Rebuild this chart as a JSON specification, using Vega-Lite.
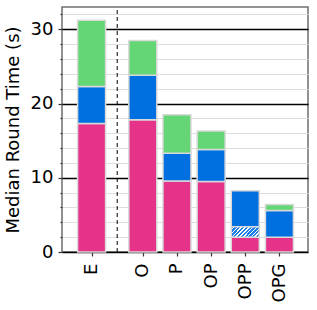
{
  "$schema": "https://vega.github.io/schema/vega-lite/v6.json",
  "width": 246,
  "height": 245,
  "autosize": "none",
  "padding": {"left": 62, "top": 7, "right": 9, "bottom": 58},
  "config": {
    "font": "DejaVu Sans",
    "view": {"stroke": "#6e6e6e", "strokeWidth": 1.5}
  },
  "data": {
    "values": [
      {"cat": "E", "pos": 0, "seg": "a", "lo": 0, "hi": 17.3},
      {"cat": "E", "pos": 0, "seg": "b", "lo": 17.3, "hi": 22.3},
      {"cat": "E", "pos": 0, "seg": "c", "lo": 22.3, "hi": 31.2},
      {"cat": "O", "pos": 1.5, "seg": "a", "lo": 0, "hi": 17.8},
      {"cat": "O", "pos": 1.5, "seg": "b", "lo": 17.8, "hi": 23.8},
      {"cat": "O", "pos": 1.5, "seg": "c", "lo": 23.8, "hi": 28.5},
      {"cat": "P", "pos": 2.5, "seg": "a", "lo": 0, "hi": 9.55},
      {"cat": "P", "pos": 2.5, "seg": "b", "lo": 9.55, "hi": 13.3},
      {"cat": "P", "pos": 2.5, "seg": "c", "lo": 13.3, "hi": 18.5},
      {"cat": "OP", "pos": 3.5, "seg": "a", "lo": 0, "hi": 9.5},
      {"cat": "OP", "pos": 3.5, "seg": "b", "lo": 9.5, "hi": 13.8},
      {"cat": "OP", "pos": 3.5, "seg": "c", "lo": 13.8, "hi": 16.3},
      {"cat": "OPP", "pos": 4.5, "seg": "a", "lo": 0, "hi": 2.0},
      {"cat": "OPP", "pos": 4.5, "seg": "h", "lo": 2.0, "hi": 3.4},
      {"cat": "OPP", "pos": 4.5, "seg": "b", "lo": 3.4, "hi": 8.25},
      {"cat": "OPG", "pos": 5.5, "seg": "a", "lo": 0, "hi": 2.0},
      {"cat": "OPG", "pos": 5.5, "seg": "b", "lo": 2.0, "hi": 5.6},
      {"cat": "OPG", "pos": 5.5, "seg": "c", "lo": 5.6, "hi": 6.4}
    ]
  },
  "encoding": {
    "x": {
      "field": "pos",
      "type": "quantitative",
      "scale": {"domain": [-0.72, 6.19], "nice": false, "zero": false},
      "axis": {
        "title": null,
        "values": [0, 1.5, 2.5, 3.5, 4.5, 5.5],
        "labelExpr": "datum.value == 0 ? 'E' : datum.value == 1.5 ? 'O' : datum.value == 2.5 ? 'P' : datum.value == 3.5 ? 'OP' : datum.value == 4.5 ? 'OPP' : 'OPG'",
        "labelAngle": -90,
        "labelAlign": "right",
        "labelBaseline": "middle",
        "labelFontSize": 18,
        "labelColor": "black",
        "labelPadding": 7,
        "tickSize": 4,
        "tickColor": "#333",
        "tickWidth": 1.2,
        "grid": false,
        "domain": false
      }
    },
    "y": {
      "field": "lo",
      "type": "quantitative",
      "scale": {"domain": [0, 33], "nice": false},
      "axis": {
        "title": "Median Round Time (s)",
        "titleFontSize": 18,
        "titleFontWeight": "normal",
        "titleColor": "black",
        "titlePadding": 8,
        "values": [0, 2, 4, 6, 8, 10, 12, 14, 16, 18, 20, 22, 24, 26, 28, 30, 32],
        "labelOverlap": false,
        "labelExpr": "datum.value % 10 === 0 ? datum.label : ''",
        "labelFontSize": 18,
        "labelColor": "black",
        "labelPadding": 5,
        "tickSize": {"condition": {"test": "datum.value % 10 === 0", "value": 4}, "value": 2},
        "tickColor": "#333",
        "tickWidth": 1.2,
        "domain": false,
        "grid": true,
        "gridColor": {"condition": {"test": "datum.value % 10 === 0", "value": "black"}, "value": "#dddddd"},
        "gridWidth": {"condition": {"test": "datum.value % 10 === 0", "value": 1.5}, "value": 1}
      }
    },
    "y2": {"field": "hi"}
  },
  "layer": [
    {
      "mark": {"type": "bar", "width": 28, "stroke": "#d9d9d9", "strokeWidth": 1.5},
      "transform": [{"filter": "datum.seg != 'h'"}],
      "encoding": {
        "color": {
          "field": "seg",
          "type": "nominal",
          "scale": {"domain": ["a", "b", "c"], "range": ["#e6338a", "#0070e0", "#64d676"]},
          "legend": null
        }
      }
    },
    {
      "mark": {
        "type": "bar",
        "width": 28,
        "stroke": "#d9d9d9",
        "strokeWidth": 1.5,
        "fill": {
          "gradient": "linear",
          "x1": 0, "y1": 0, "x2": 1.2, "y2": 0.44,
          "stops": [
            {"offset": 0.0, "color": "#1a7fe6"}, {"offset": 0.06, "color": "#1a7fe6"}, {"offset": 0.06, "color": "#ffffff"}, {"offset": 0.1, "color": "#ffffff"},
            {"offset": 0.1, "color": "#1a7fe6"}, {"offset": 0.16, "color": "#1a7fe6"}, {"offset": 0.16, "color": "#ffffff"}, {"offset": 0.2, "color": "#ffffff"},
            {"offset": 0.2, "color": "#1a7fe6"}, {"offset": 0.26, "color": "#1a7fe6"}, {"offset": 0.26, "color": "#ffffff"}, {"offset": 0.3, "color": "#ffffff"},
            {"offset": 0.3, "color": "#1a7fe6"}, {"offset": 0.36, "color": "#1a7fe6"}, {"offset": 0.36, "color": "#ffffff"}, {"offset": 0.4, "color": "#ffffff"},
            {"offset": 0.4, "color": "#1a7fe6"}, {"offset": 0.46, "color": "#1a7fe6"}, {"offset": 0.46, "color": "#ffffff"}, {"offset": 0.5, "color": "#ffffff"},
            {"offset": 0.5, "color": "#1a7fe6"}, {"offset": 0.56, "color": "#1a7fe6"}, {"offset": 0.56, "color": "#ffffff"}, {"offset": 0.6, "color": "#ffffff"},
            {"offset": 0.6, "color": "#1a7fe6"}, {"offset": 0.66, "color": "#1a7fe6"}, {"offset": 0.66, "color": "#ffffff"}, {"offset": 0.7, "color": "#ffffff"},
            {"offset": 0.7, "color": "#1a7fe6"}, {"offset": 0.76, "color": "#1a7fe6"}, {"offset": 0.76, "color": "#ffffff"}, {"offset": 0.8, "color": "#ffffff"},
            {"offset": 0.8, "color": "#1a7fe6"}, {"offset": 0.86, "color": "#1a7fe6"}, {"offset": 0.86, "color": "#ffffff"}, {"offset": 0.9, "color": "#ffffff"},
            {"offset": 0.9, "color": "#1a7fe6"}, {"offset": 0.96, "color": "#1a7fe6"}, {"offset": 0.96, "color": "#ffffff"}, {"offset": 1.0, "color": "#ffffff"}
          ]
        }
      },
      "transform": [{"filter": "datum.seg == 'h'"}]
    },
    {
      "mark": {"type": "rule", "color": "black", "strokeWidth": 1, "strokeDash": [4, 3]},
      "data": {"values": [{"pos": 0.75, "lo": 0, "hi": 33}]}
    }
  ]
}
